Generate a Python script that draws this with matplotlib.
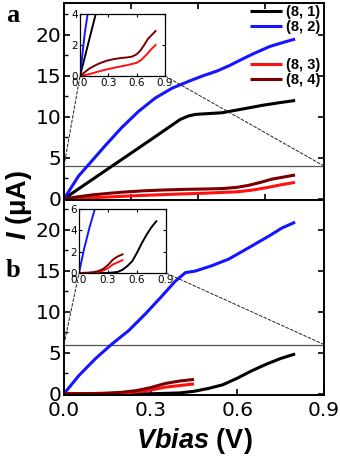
import matplotlib
matplotlib.use("Agg")
import matplotlib.pyplot as plt
from matplotlib.patches import ConnectionPatch
from matplotlib.ticker import MultipleLocator

plt.rcParams['font.family'] = ['Liberation Sans', 'DejaVu Sans']
plt.rcParams['mathtext.fontset'] = 'custom'
plt.rcParams['mathtext.bfit'] = 'Liberation Sans:italic:bold'
plt.rcParams['mathtext.rm'] = 'Liberation Sans:bold'

# ---------------- data ----------------
# panel a
va_81 = [0.0, 0.1, 0.2, 0.3, 0.37, 0.403, 0.43, 0.455, 0.5, 0.547, 0.593, 0.64, 0.685, 0.74, 0.8]
ia_81 = [0.0, 2.4, 4.8, 7.2, 8.9, 9.7, 10.1, 10.3, 10.4, 10.5, 10.8, 11.1, 11.4, 11.7, 12.0]
va_82 = [0.0, 0.051, 0.091, 0.143, 0.2, 0.259, 0.316, 0.374, 0.443, 0.48, 0.53, 0.575, 0.62, 0.655, 0.713, 0.76, 0.8]
ia_82 = [0.0, 2.8, 4.4, 6.5, 8.7, 10.7, 12.3, 13.5, 14.5, 15.0, 15.6, 16.3, 17.1, 17.7, 18.6, 19.1, 19.5]
va_83 = [0.0, 0.1, 0.2, 0.3, 0.4, 0.5, 0.6, 0.65, 0.7, 0.75, 0.8]
ia_83 = [0.0, 0.12, 0.30, 0.45, 0.58, 0.70, 0.85, 1.05, 1.35, 1.70, 2.0]
va_84 = [0.0, 0.05, 0.1, 0.15, 0.2, 0.28, 0.35, 0.42, 0.5, 0.55, 0.6, 0.64, 0.68, 0.72, 0.76, 0.8]
ia_84 = [0.0, 0.25, 0.48, 0.65, 0.8, 0.98, 1.08, 1.15, 1.2, 1.25, 1.4, 1.65, 2.0, 2.4, 2.65, 2.9]

# panel b
vb_81 = [0.0, 0.3, 0.4, 0.45, 0.5, 0.55, 0.6, 0.65, 0.7, 0.75, 0.8]
ib_81 = [0.0, 0.0, 0.1, 0.3, 0.65, 1.1, 1.9, 2.8, 3.6, 4.3, 4.85]
vb_82 = [0.0, 0.051, 0.108, 0.166, 0.224, 0.281, 0.339, 0.385, 0.42, 0.455, 0.512, 0.57, 0.64, 0.709, 0.755, 0.8]
ib_82 = [0.0, 2.2, 4.25, 6.06, 7.7, 9.7, 11.9, 13.7, 14.75, 14.95, 15.6, 16.4, 17.8, 19.2, 20.2, 20.9]
vb_83 = [0.0, 0.1, 0.15, 0.2, 0.25, 0.3, 0.35, 0.4, 0.45]
ib_83 = [0.0, 0.01, 0.04, 0.1, 0.22, 0.45, 0.8, 1.0, 1.2]
vb_84 = [0.0, 0.1, 0.15, 0.2, 0.25, 0.3, 0.35, 0.4, 0.45]
ib_84 = [0.0, 0.03, 0.08, 0.18, 0.38, 0.75, 1.25, 1.55, 1.75]

labels = ['(8, 1)', '(8, 2)', '(8, 3)', '(8, 4)']
colors = ['#000000', '#1515ff', '#ff1010', '#7a0000']
x_ticks = [0.0, 0.3, 0.6, 0.9]
x_ticklabels = ['0.0', '0.3', '0.6', '0.9']
y_ticks = [0, 5, 10, 15, 20]
ins_a_yticks = [0, 2, 4]
ins_b_yticks = [0, 2, 4, 6]

W, H = 340, 461
fig = plt.figure(figsize=(W / 100, H / 100), dpi=100)


def ax_px(l, t, r, b):
    return fig.add_axes([l / W, 1 - b / H, (r - l) / W, (b - t) / H])


LW = 2.2
TICKFONT = 'DejaVu Sans'

axa = ax_px(64, 3, 324, 200)
axb = ax_px(64, 200, 324, 395)

da = [(va_81, ia_81), (va_82, ia_82), (va_83, ia_83), (va_84, ia_84)]
db = [(vb_81, ib_81), (vb_82, ib_82), (vb_83, ib_83), (vb_84, ib_84)]

for ax, data, ylim, hl in [(axa, da, (-0.15, 23.9), 4), (axb, db, (-0.15, 23.6), 6)]:
    hs = []
    for (v, i), c, lab in zip(data, colors, labels):
        h, = ax.plot(v, i, color=c, lw=LW, label=lab, solid_capstyle='butt', solid_joinstyle='round')
        hs.append(h)
    ax.axhline(hl, color='#555555', lw=0.9, zorder=1)
    ax.set_xlim(0, 0.9)
    ax.set_ylim(*ylim)
    ax.set_yticks(y_ticks)
    ax.yaxis.set_minor_locator(MultipleLocator(2.5))
    ax.tick_params(axis='both', which='major', direction='in', length=4.5, width=1.2,
                   labelsize=14.5, right=True, top=True, pad=2)
    ax.tick_params(axis='y', which='minor', direction='in', length=3, width=1.0, left=True, right=False)
    for s in ax.spines.values():
        s.set_linewidth(1.4)
    ax.hs = hs

axa.set_xticks([0.232, 0.464, 0.696])
axa.tick_params(axis='x', labelbottom=False)
axb.set_xticks(x_ticks)
axb.set_xticklabels(x_ticklabels, family=TICKFONT)
axb.tick_params(axis='x', top=False, pad=4)
for lab in axa.get_yticklabels() + axb.get_yticklabels():
    lab.set_family(TICKFONT)

# legends
legkw = dict(bbox_transform=fig.transFigure, frameon=False, prop={'weight': 'bold', 'size': 10.5},
             handlelength=2.2, handletextpad=0.25, labelspacing=0.05, borderpad=0, borderaxespad=0)
leg1 = axa.legend(handles=axa.hs[:2], loc='upper right', bbox_to_anchor=(320 / W, 1 - 5 / H), **legkw)
axa.add_artist(leg1)
leg2 = axa.legend(handles=axa.hs[2:], loc='upper right', bbox_to_anchor=(320 / W, 1 - 58 / H), **legkw)

# insets
ina = ax_px(80, 14, 165, 76)
inb = ax_px(79, 209, 166, 273)
for ins, data, ymax, yt, main, hl in [(ina, da, 4, ins_a_yticks, axa, 4), (inb, db, 6, ins_b_yticks, axb, 6)]:
    for (v, i), c in zip(data, colors):
        ins.plot(v, i, color=c, lw=1.4)
    ins.set_xlim(0, 0.9)
    ins.set_ylim(0, ymax)
    ins.set_xticks(x_ticks)
    ins.set_xticklabels(x_ticklabels, family=TICKFONT)
    ins.set_yticks(yt)
    ins.set_yticklabels([str(t) for t in yt], family=TICKFONT)
    ins.tick_params(direction='in', length=2.5, width=0.8, labelsize=7.5, pad=1.5, top=True, right=True)
    for s in ins.spines.values():
        s.set_linewidth(0.9)
    for xa, xb in [(0, 0), (0.9, 1)]:
        cp = ConnectionPatch(xyA=(xa, hl), coordsA=main.transData, xyB=(xb, 0), coordsB=ins.transAxes,
                             ls=(0, (3, 2)), lw=0.7, color='#222222', zorder=0.5)
        fig.add_artist(cp)

# panel letters
fig.text(13 / W, 1 - 15 / H, 'a', family='Liberation Serif', weight='bold', size=19, ha='center', va='center')
fig.text(13 / W, 1 - 270 / H, 'b', family='Liberation Serif', weight='bold', size=19, ha='center', va='center')

# axis labels
fig.text(194 / W, 1 - 441 / H, r'$\mathbfit{Vbias}$ (V)', weight='bold', size=19.5, ha='center', va='center')
fig.text(19 / W, 1 - 205 / H, r'$\mathbfit{I}$ (μA)', weight='bold', size=19.5, ha='center', va='center',
         rotation=90)

fig.savefig('out.png', dpi=100)
